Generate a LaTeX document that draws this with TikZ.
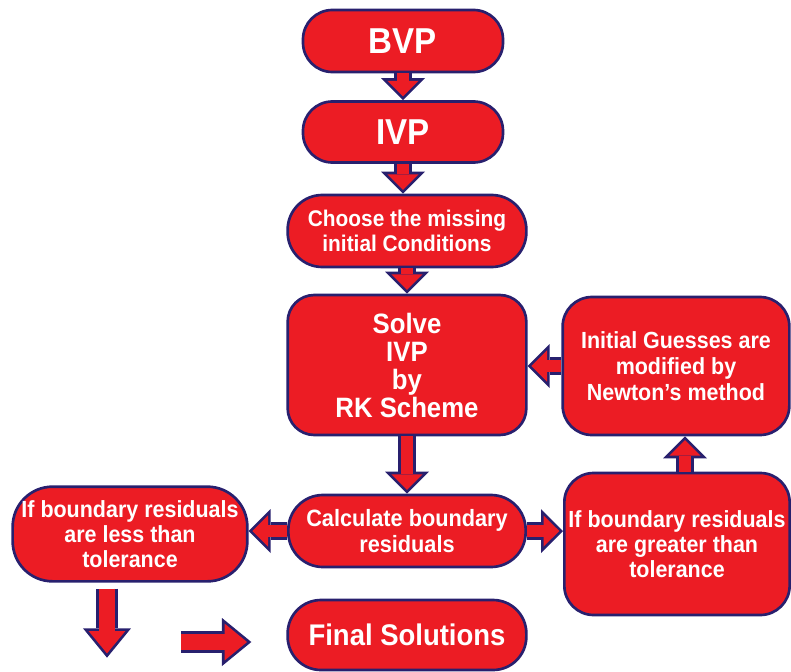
\documentclass[tikz,border=0pt]{standalone}
\usepackage{fontspec}
\setmainfont{Liberation Sans}[FakeStretch=0.92]
\usetikzlibrary{arrows.meta}
\usetikzlibrary{positioning}
\definecolor{boxred}{RGB}{236,28,36}
\definecolor{boxnavy}{RGB}{40,32,110}
\tikzset{
    state/.style={
           rectangle,
           rounded corners=22pt,
           draw=boxnavy, line width=2pt,
           fill=boxred,
           text=white,
           inner sep=2pt,
           align=center,
           },
    flow/.style={
           draw=boxnavy, line width=13.5pt,
           -{Triangle[width=33pt,length=16.5pt,line width=0pt]},
           postaction={draw=boxred, line width=9.5pt,
             -{Triangle[width=23.3pt,length=11.7pt,line width=0pt]},
             shorten >=2.8pt},
           },
    wideflow/.style={
           draw=boxnavy, line width=16.5pt,
           -{Triangle[width=36pt,length=22pt,line width=0pt]},
           postaction={draw=boxred, line width=12.5pt,
             -{Triangle[width=27.6pt,length=16.8pt,line width=0pt]},
             shorten >=3.2pt},
           },
}
\begin{document}
\begin{tikzpicture}
 \useasboundingbox (-302.25pt,30.75pt) rectangle (291pt,-472.5pt);

 \node[state,
  minimum width=150pt, minimum height=46.5pt,
  font=\bfseries\fontsize{27}{27}\selectfont] (BVP)
 {BVP};

 \node[state,
  below of=BVP,
  node distance=68.25pt,
  anchor=center,
  minimum width=150pt, minimum height=45.75pt,
  font=\bfseries\fontsize{27}{27}\selectfont] (IVP)
 {IVP};

 \node[state,
  below of=IVP,
  node distance=74.25pt,
  xshift=3pt,
  anchor=center,
  minimum width=179pt, minimum height=54pt, rounded corners=26pt,
  font=\bfseries\fontsize{17}{18.75}\selectfont] (Choose)
 {Choose the missing\\initial Conditions};

 \node[state,
  below of=Choose,
  node distance=100.5pt,
  anchor=center,
  minimum width=179pt, minimum height=105pt, rounded corners=20pt,
  font=\bfseries\fontsize{21}{21}\selectfont] (Solve)
 {Solve\\IVP\\by\\RK Scheme};

 \node[state,
  below of=Solve,
  node distance=124.5pt,
  anchor=center,
  minimum width=178pt, minimum height=54pt, rounded corners=26pt,
  font=\bfseries\fontsize{17.7}{19}\selectfont] (Calculate)
 {Calculate boundary\\residuals};

 \node[state,
  below of=Calculate,
  node distance=78pt,
  anchor=center,
  minimum width=179pt, minimum height=52.5pt, rounded corners=25pt,
  font=\bfseries\fontsize{22.4}{22.4}\selectfont] (Final)
 {Final Solutions};

 % residual checks
 \node[state,
  left of=Calculate,
  node distance=207.75pt,
  yshift=-2.25pt,
  anchor=center,
  minimum width=176pt, minimum height=71pt, rounded corners=30pt,
  font=\bfseries\fontsize{17.5}{19}\selectfont] (Less)
 {If boundary residuals\\are less than\\tolerance};

 \node[state,
  right of=Calculate,
  node distance=202.5pt,
  yshift=-9.75pt,
  anchor=center,
  minimum width=169pt, minimum height=106.5pt,
  font=\bfseries\fontsize{17.5}{19}\selectfont] (Greater)
 {If boundary residuals\\are greater than\\tolerance};

 \node[state,
  right of=Solve,
  node distance=201.75pt,
  yshift=-0.75pt,
  anchor=center,
  minimum width=170pt, minimum height=103.5pt,
  font=\bfseries\fontsize{17.5}{19.5}\selectfont] (Guess)
 {Initial Guesses are\\modified by\\Newton's method};

 % free ends of the two bottom arrows
 \coordinate (LessTail) at ([xshift=-17.25pt,yshift=-4.5pt]Less.south);
 \coordinate (LessHead) at ([xshift=-17.25pt,yshift=-56.25pt]Less.south);
 \coordinate (FinalTail) at ([xshift=-78.75pt,yshift=-5.25pt]Final.west);
 \coordinate (FinalHead) at ([xshift=-26.25pt,yshift=-5.25pt]Final.west);

 % draw the block arrows
 \draw[flow] (BVP.south) -- (IVP.north);
 \draw[flow] (IVP.south) -- (IVP.south |- Choose.north);
 \draw[flow] (Choose.south) -- (Solve.north);
 \draw[flow] (Solve.south) -- (Calculate.north);
 \draw[flow] (Calculate.west) -- (Calculate.west -| Less.east);
 \draw[flow] (Calculate.east) -- (Calculate.east -| Greater.west);
 \draw[flow] ([xshift=6pt]Greater.north) -- ([xshift=6pt]Greater.north |- Guess.south);
 \draw[flow] (Guess.west) -- (Guess.west -| Solve.east);
 \draw[wideflow] (LessTail) -- (LessHead);
 \draw[wideflow] (FinalTail) -- (FinalHead);

\end{tikzpicture}
\end{document}
